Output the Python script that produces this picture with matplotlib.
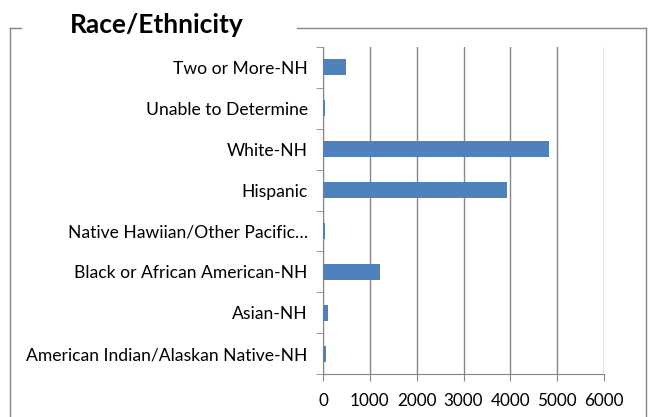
import matplotlib.pyplot as plt
from matplotlib.lines import Line2D
import numpy as np

plt.rcParams['font.family'] = ['Lato', 'DejaVu Sans']

categories = ["American Indian/Alaskan Native-NH", "Asian-NH",
              "Black or African American-NH", "Native Hawiian/Other Pacific\u2026",
              "Hispanic", "White-NH", "Unable to Determine", "Two or More-NH"]
counts = [70, 110, 1210, 40, 3920, 4830, 45, 490]
xticks = [0, 1000, 2000, 3000, 4000, 5000, 6000]

grey = "#868686"

fig = plt.figure(figsize=(6.54, 4.17), dpi=100)
ax = fig.add_axes([323 / 654, 1 - 374 / 417, 281 / 654, 327 / 417])

y = np.arange(len(categories))
ax.barh(y, counts, height=0.39, color="#4F81BD", zorder=3)
ax.set_xlim(0, 6000)
ax.set_ylim(-0.5, len(categories) - 0.5)

ax.set_xticks(xticks)
ax.set_xticklabels([str(v) for v in xticks], fontsize=12.3)
ax.set_yticks(y)
ax.set_yticklabels(categories, fontsize=12.6)
ax.set_yticks(np.arange(-0.5, len(categories)), minor=True)
ax.tick_params(axis="y", which="major", length=0, pad=11)
ax.tick_params(axis="y", which="minor", length=5, color=grey, direction="out")
ax.tick_params(axis="x", length=5, color=grey, direction="out", pad=9)
ax.xaxis.grid(True, color=grey, linewidth=1, zorder=0)

for s in ["top", "right"]:
    ax.spines[s].set_visible(False)
for s in ["left", "bottom"]:
    ax.spines[s].set_color(grey)

# chart border with title gap
W, H = 654, 417
def fx(px): return px / W
def fy(py): return 1 - py / H
for xs, ys in [([10, 10], [417, 28]), ([10, 21], [28, 28]),
               ([297, 646], [28, 28]), ([646, 646], [28, 417])]:
    fig.add_artist(Line2D([fx(v) for v in xs], [fy(v) for v in ys],
                          color=grey, linewidth=1))

fig.text(fx(70), fy(33), "Race/Ethnicity", fontsize=19, fontweight="bold",
         va="baseline", ha="left")

fig.savefig("out.png", dpi=100)
